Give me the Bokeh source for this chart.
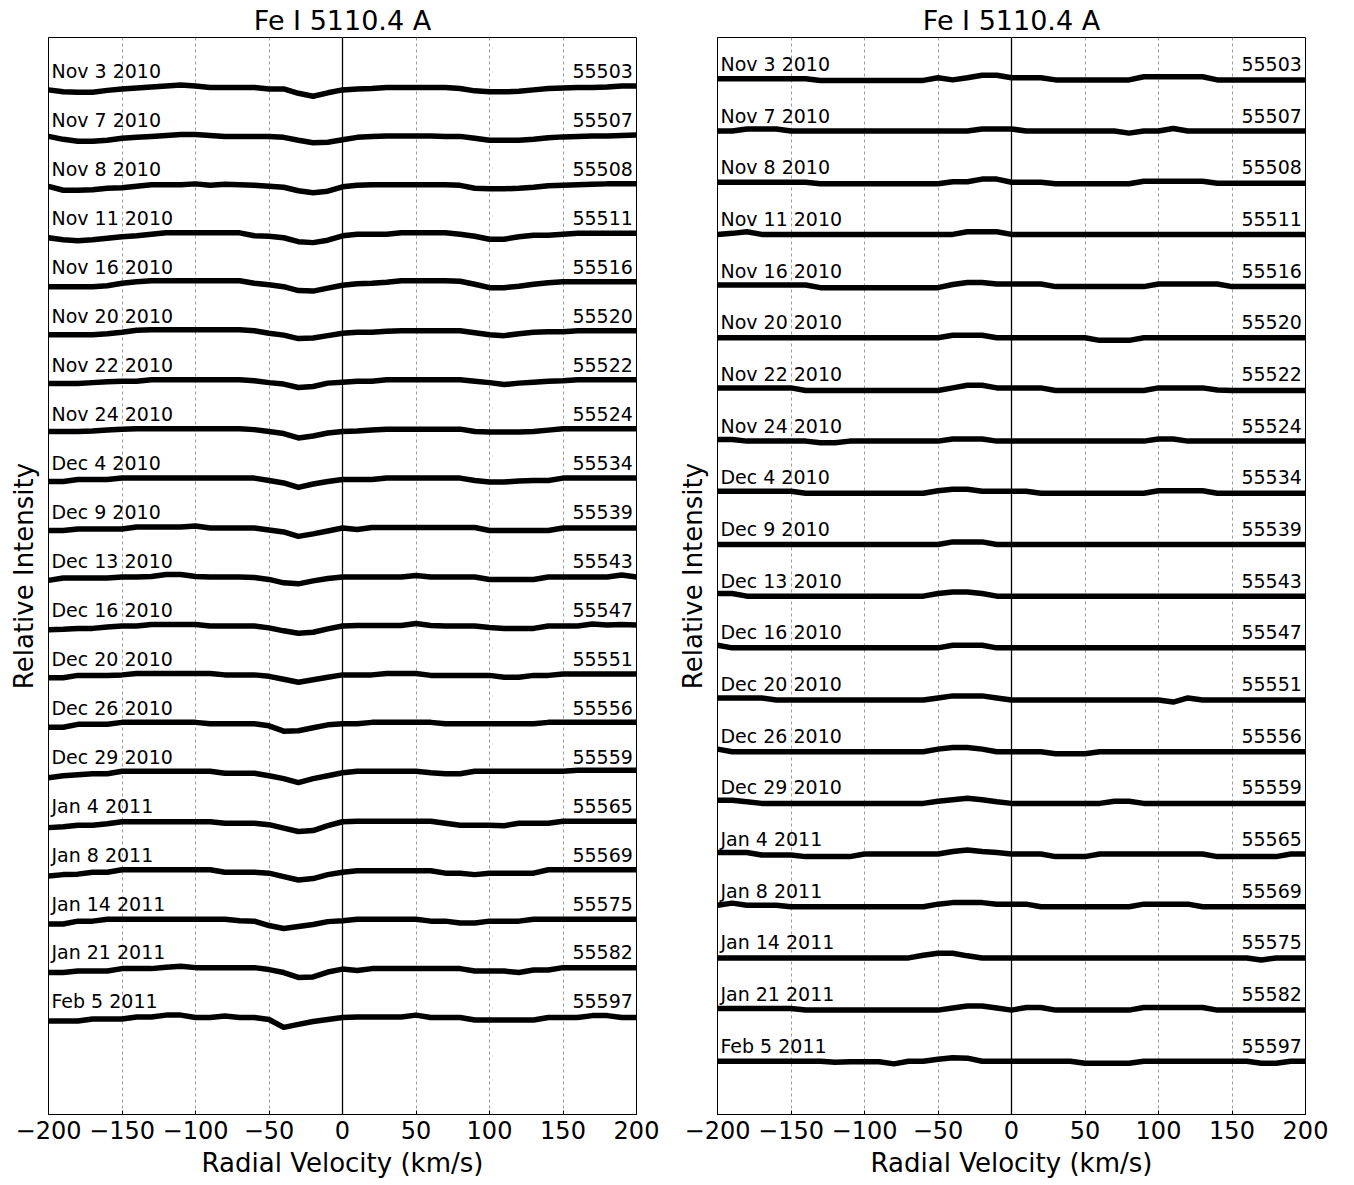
from bokeh.plotting import figure
from bokeh.models import Range1d, FixedTicker, Span
from bokeh.layouts import row
from bokeh.embed import file_html
from bokeh.resources import INLINE
from bokeh.core.properties import value

velocity = [-200, -190, -180, -170, -160, -150, -140, -130, -120, -110, -100,
            -90, -80, -70, -60, -50, -40, -30, -20, -10, 0,
            10, 20, 30, 40, 50, 60, 70, 80, 90, 100,
            110, 120, 130, 140, 150, 160, 170, 180, 190, 200]

dates = ["Nov 3 2010", "Nov 7 2010", "Nov 8 2010", "Nov 11 2010", "Nov 16 2010",
         "Nov 20 2010", "Nov 22 2010", "Nov 24 2010", "Dec 4 2010", "Dec 9 2010",
         "Dec 13 2010", "Dec 16 2010", "Dec 20 2010", "Dec 26 2010", "Dec 29 2010",
         "Jan 4 2011", "Jan 8 2011", "Jan 14 2011", "Jan 21 2011", "Feb 5 2011"]

mjd = ["55503", "55507", "55508", "55511", "55516", "55520", "55522", "55524",
       "55534", "55539", "55543", "55547", "55551", "55556", "55559", "55565",
       "55569", "55575", "55582", "55597"]

tick_values = [-200, -150, -100, -50, 0, 50, 100, 150, 200]

# Left panel: observed line profiles (relative intensity)
left_flux = [
    [0.995, 0.991, 0.990, 0.990, 0.994, 0.997, 0.999, 1.001, 1.003, 1.005, 1.003, 1.000, 1.000, 1.000, 1.000, 0.997, 0.997, 0.988, 0.982, 0.989, 0.995, 0.997, 0.998, 1.000, 1.000, 1.000, 1.000, 1.000, 0.998, 0.993, 0.991, 0.991, 0.992, 0.995, 0.998, 0.999, 1.000, 1.000, 1.001, 1.003, 1.003],
    [1.000, 0.994, 0.990, 0.990, 0.992, 0.996, 0.998, 1.000, 1.002, 1.004, 1.004, 1.002, 1.000, 1.000, 1.000, 1.000, 0.998, 0.992, 0.987, 0.988, 0.993, 0.998, 1.000, 1.001, 1.001, 1.001, 1.001, 1.000, 1.000, 0.996, 0.992, 0.992, 0.992, 0.994, 0.997, 0.999, 1.000, 1.001, 1.001, 1.002, 1.003],
    [0.998, 0.990, 0.990, 0.991, 0.994, 0.995, 0.998, 1.001, 1.001, 1.001, 1.003, 1.000, 1.002, 1.001, 1.000, 0.998, 0.996, 0.989, 0.985, 0.988, 0.997, 1.000, 1.001, 1.001, 1.001, 1.001, 1.001, 1.001, 1.000, 0.994, 0.993, 0.993, 0.994, 0.996, 0.999, 1.000, 1.001, 1.002, 1.003, 1.003, 1.003],
    [0.993, 0.989, 0.987, 0.989, 0.992, 0.995, 0.997, 1.000, 1.003, 1.003, 1.003, 1.003, 1.003, 1.003, 0.997, 0.996, 0.993, 0.985, 0.983, 0.988, 0.997, 1.000, 1.000, 1.000, 1.003, 1.003, 1.003, 1.003, 1.000, 0.996, 0.990, 0.990, 0.995, 0.998, 0.998, 1.000, 1.002, 1.002, 1.002, 1.002, 1.002],
    [0.993, 0.993, 0.993, 0.993, 0.995, 1.000, 1.003, 1.005, 1.005, 1.005, 1.005, 1.005, 1.005, 1.005, 1.000, 0.997, 0.993, 0.985, 0.984, 0.990, 0.996, 0.999, 1.000, 1.002, 1.005, 1.005, 1.005, 1.005, 1.004, 0.998, 0.991, 0.991, 0.994, 0.998, 1.001, 1.003, 1.003, 1.003, 1.003, 1.003, 1.003],
    [0.995, 0.995, 0.995, 0.995, 0.997, 1.000, 1.004, 1.005, 1.005, 1.005, 1.005, 1.005, 1.005, 1.005, 1.003, 0.998, 0.994, 0.987, 0.988, 0.993, 0.998, 1.000, 1.000, 1.002, 1.003, 1.003, 1.003, 1.003, 1.003, 0.999, 0.995, 0.993, 0.997, 1.000, 1.001, 1.001, 1.003, 1.003, 1.003, 1.003, 1.003],
    [0.995, 0.995, 0.995, 0.997, 0.999, 1.000, 1.000, 1.003, 1.003, 1.003, 1.003, 1.003, 1.003, 1.003, 1.001, 0.997, 0.994, 0.987, 0.989, 0.996, 0.998, 1.000, 1.000, 1.003, 1.003, 1.003, 1.003, 1.003, 1.003, 1.000, 0.997, 0.993, 0.996, 0.998, 1.000, 1.001, 1.003, 1.003, 1.003, 1.003, 1.003],
    [0.997, 0.997, 0.997, 0.998, 1.000, 1.002, 1.003, 1.003, 1.003, 1.003, 1.003, 1.003, 1.003, 1.003, 1.001, 0.997, 0.993, 0.984, 0.988, 0.994, 0.997, 0.998, 1.000, 1.002, 1.002, 1.002, 1.002, 1.002, 1.002, 0.997, 0.996, 0.996, 0.996, 0.997, 1.000, 1.003, 1.003, 1.003, 1.003, 1.003, 1.003],
    [0.995, 0.995, 0.999, 0.999, 0.999, 1.002, 1.002, 1.002, 1.002, 1.002, 1.002, 1.002, 1.002, 1.002, 1.002, 0.997, 0.992, 0.983, 0.990, 0.995, 0.999, 0.999, 0.999, 1.002, 1.002, 1.002, 1.002, 1.002, 1.002, 0.997, 0.994, 0.994, 0.996, 0.997, 0.997, 1.002, 1.002, 1.002, 1.002, 1.002, 1.002],
    [0.995, 0.995, 0.998, 0.998, 0.998, 0.998, 1.002, 1.002, 1.002, 1.002, 1.004, 1.000, 1.000, 1.000, 1.000, 0.996, 0.992, 0.983, 0.988, 0.994, 1.000, 0.997, 1.001, 1.001, 1.001, 1.001, 1.001, 1.001, 1.001, 1.001, 0.995, 0.995, 0.995, 0.995, 0.995, 1.000, 1.000, 1.000, 1.000, 1.000, 1.000],
    [0.993, 0.998, 0.998, 0.998, 0.998, 1.000, 1.000, 1.001, 1.005, 1.005, 1.001, 1.000, 1.000, 1.000, 0.999, 0.995, 0.988, 0.986, 0.992, 0.997, 1.000, 1.000, 1.000, 1.000, 1.000, 1.003, 1.000, 1.000, 1.000, 1.000, 0.995, 0.995, 0.995, 0.995, 1.000, 1.000, 1.000, 1.000, 1.000, 1.004, 1.000],
    [0.992, 0.993, 0.995, 0.995, 0.998, 1.000, 1.000, 1.003, 1.003, 1.003, 1.003, 1.000, 1.000, 1.000, 1.000, 0.996, 0.990, 0.985, 0.987, 0.994, 1.000, 1.001, 1.001, 1.001, 1.001, 1.005, 1.001, 1.000, 1.000, 1.000, 0.997, 0.995, 0.995, 0.995, 1.000, 1.000, 1.000, 1.004, 1.002, 1.003, 1.002],
    [0.994, 0.994, 0.999, 0.999, 0.999, 1.000, 1.003, 1.003, 1.003, 1.003, 1.003, 1.003, 1.000, 1.000, 1.000, 0.997, 0.991, 0.985, 0.990, 0.995, 1.000, 1.000, 1.000, 1.003, 1.003, 1.003, 0.999, 0.999, 0.999, 0.999, 0.999, 0.995, 0.995, 0.999, 0.999, 1.002, 1.002, 1.002, 1.002, 1.002, 1.002],
    [0.993, 0.993, 0.999, 0.999, 0.999, 1.003, 1.003, 1.003, 1.003, 1.003, 1.003, 1.000, 1.000, 1.000, 1.000, 0.996, 0.985, 0.986, 0.992, 0.998, 1.000, 1.000, 1.003, 1.003, 1.003, 1.003, 1.003, 1.000, 1.000, 1.000, 1.000, 1.000, 1.000, 1.000, 1.003, 1.003, 1.003, 1.003, 1.003, 1.003, 1.003],
    [0.990, 0.994, 0.996, 0.998, 0.998, 1.003, 1.003, 1.003, 1.003, 1.003, 1.003, 1.003, 0.999, 0.999, 0.999, 0.994, 0.988, 0.980, 0.988, 0.994, 1.000, 1.003, 1.003, 1.003, 1.003, 1.003, 1.000, 0.998, 0.998, 1.003, 1.003, 1.003, 1.003, 1.003, 1.003, 1.003, 1.005, 1.005, 1.005, 1.005, 1.005],
    [0.988, 0.990, 0.993, 0.993, 0.996, 1.000, 1.000, 1.000, 1.000, 1.000, 1.000, 1.000, 0.997, 0.997, 0.997, 0.994, 0.987, 0.980, 0.982, 0.992, 1.000, 1.001, 1.001, 1.001, 1.001, 1.001, 1.001, 0.997, 0.993, 0.993, 0.993, 0.992, 0.997, 0.997, 0.997, 1.001, 1.001, 1.001, 1.001, 1.001, 1.001],
    [0.989, 0.992, 0.993, 0.997, 0.997, 1.002, 1.002, 1.002, 1.002, 1.002, 1.002, 1.002, 0.997, 0.997, 0.997, 0.995, 0.988, 0.981, 0.984, 0.992, 0.997, 1.000, 1.000, 1.000, 1.000, 1.000, 1.000, 0.995, 0.995, 0.992, 0.995, 0.995, 0.995, 0.995, 1.002, 1.002, 1.002, 1.002, 1.002, 1.002, 1.002],
    [0.991, 0.991, 0.997, 0.997, 1.001, 1.001, 1.001, 1.001, 1.001, 1.001, 1.001, 1.001, 1.001, 0.998, 0.997, 0.988, 0.982, 0.986, 0.990, 0.996, 0.998, 1.001, 1.001, 1.001, 1.001, 1.001, 0.997, 0.997, 0.993, 0.993, 0.997, 0.997, 0.997, 1.001, 1.001, 1.001, 1.001, 1.001, 1.001, 1.001, 1.001],
    [0.992, 0.992, 0.995, 0.995, 0.995, 1.000, 1.000, 1.000, 1.003, 1.005, 1.002, 1.002, 1.002, 1.002, 1.002, 0.998, 0.992, 0.982, 0.983, 0.993, 0.999, 0.996, 1.000, 1.000, 1.000, 1.000, 1.000, 1.000, 1.000, 0.995, 0.995, 0.995, 0.992, 0.997, 0.997, 1.002, 1.002, 1.002, 1.002, 1.002, 1.002],
    [0.993, 0.993, 0.993, 0.997, 0.997, 0.997, 1.001, 1.001, 1.005, 1.005, 1.000, 1.000, 1.003, 1.000, 1.000, 0.996, 0.980, 0.986, 0.992, 0.996, 1.000, 1.001, 1.001, 1.001, 1.001, 1.005, 1.000, 1.000, 1.000, 0.995, 0.995, 0.995, 0.995, 0.995, 1.000, 1.000, 1.000, 1.004, 1.004, 1.000, 1.000],
]

# Right panel: residual profiles (relative intensity)
right_flux = [
    [1.001, 1.001, 1.001, 1.001, 1.001, 1.001, 1.001, 0.998, 0.998, 0.998, 0.998, 0.998, 0.998, 0.998, 0.998, 1.003, 0.999, 1.003, 1.008, 1.008, 1.003, 1.003, 1.003, 0.999, 0.999, 0.999, 0.999, 0.999, 0.999, 1.005, 1.005, 1.005, 1.005, 1.005, 0.999, 0.999, 0.999, 0.999, 0.999, 0.999, 0.999],
    [1.000, 1.000, 1.004, 1.004, 1.004, 1.000, 1.000, 1.000, 1.000, 1.000, 1.000, 1.000, 1.000, 1.000, 1.000, 1.000, 1.000, 1.000, 1.004, 1.004, 1.004, 1.000, 1.000, 1.000, 1.000, 1.000, 1.000, 1.000, 0.996, 1.000, 1.000, 1.005, 1.000, 1.000, 1.000, 1.000, 1.000, 1.000, 1.000, 1.000, 1.000],
    [1.001, 1.001, 1.001, 1.001, 1.001, 1.001, 1.001, 0.998, 0.998, 0.998, 0.998, 0.998, 0.998, 0.998, 0.998, 0.998, 1.002, 1.002, 1.007, 1.007, 1.001, 1.001, 1.001, 0.998, 0.998, 0.998, 0.998, 0.998, 0.998, 1.003, 1.003, 1.003, 1.003, 1.003, 0.999, 0.999, 0.999, 0.999, 0.999, 0.999, 0.999],
    [1.000, 1.002, 1.005, 1.000, 1.000, 1.000, 1.000, 1.000, 1.000, 1.000, 1.000, 1.000, 1.000, 1.000, 1.000, 1.000, 1.000, 1.005, 1.005, 1.005, 1.000, 1.000, 1.000, 1.000, 1.000, 1.000, 1.000, 1.000, 1.000, 1.000, 1.000, 1.000, 1.000, 1.000, 1.000, 1.000, 1.000, 1.000, 1.000, 1.000, 1.000],
    [1.002, 1.002, 1.002, 1.002, 1.002, 1.002, 1.002, 0.997, 0.997, 0.997, 0.997, 0.997, 0.997, 0.997, 0.997, 0.997, 1.003, 1.007, 1.007, 1.004, 1.004, 1.004, 1.004, 0.999, 0.999, 0.999, 0.999, 0.999, 0.999, 0.999, 1.004, 1.004, 1.004, 1.004, 1.004, 0.999, 0.999, 0.999, 0.999, 0.999, 0.999],
    [1.000, 1.000, 1.000, 1.000, 1.000, 1.000, 1.000, 1.000, 1.000, 1.000, 1.000, 1.000, 1.000, 1.000, 1.000, 1.000, 1.005, 1.005, 1.005, 1.000, 1.000, 1.000, 1.000, 1.000, 1.000, 1.000, 0.995, 0.995, 0.995, 1.000, 1.000, 1.000, 1.000, 1.000, 1.000, 1.000, 1.000, 1.000, 1.000, 1.000, 1.000],
    [1.003, 1.003, 1.003, 1.003, 1.003, 1.003, 0.998, 0.998, 0.998, 0.998, 0.998, 0.998, 0.998, 0.998, 0.998, 0.998, 1.003, 1.008, 1.008, 1.003, 1.003, 1.003, 1.003, 0.998, 0.998, 0.998, 0.998, 0.998, 0.998, 0.998, 1.003, 1.003, 1.003, 1.003, 0.999, 0.998, 0.998, 0.998, 0.998, 0.998, 0.998],
    [1.003, 1.003, 1.000, 1.000, 1.000, 1.000, 1.000, 0.997, 0.997, 1.000, 1.000, 1.000, 1.000, 1.000, 1.000, 1.000, 1.004, 1.004, 1.004, 1.000, 1.000, 1.000, 1.000, 1.000, 1.000, 1.000, 1.000, 1.000, 1.000, 1.000, 1.004, 1.004, 1.000, 1.000, 1.000, 1.000, 1.000, 1.000, 1.000, 1.000, 1.000],
    [1.003, 1.003, 1.003, 1.003, 1.003, 1.003, 0.999, 0.999, 0.999, 0.999, 0.999, 0.999, 0.999, 0.999, 0.999, 1.004, 1.007, 1.007, 1.003, 1.003, 1.003, 1.003, 0.999, 0.999, 0.999, 0.999, 0.999, 0.999, 0.999, 0.999, 1.004, 1.004, 1.004, 1.004, 0.999, 0.999, 0.999, 0.999, 0.999, 0.999, 0.999],
    [1.000, 1.000, 1.000, 1.000, 1.000, 1.000, 1.000, 1.000, 1.000, 1.000, 1.000, 1.000, 1.000, 1.000, 1.000, 1.000, 1.005, 1.005, 1.005, 1.000, 1.000, 1.000, 1.000, 1.000, 1.000, 1.000, 1.000, 1.000, 1.000, 1.000, 1.000, 1.000, 1.000, 1.000, 1.000, 1.000, 1.000, 1.000, 1.000, 1.000, 1.000],
    [1.005, 1.005, 1.000, 1.000, 1.000, 1.000, 1.000, 1.000, 1.000, 1.000, 1.000, 1.000, 1.000, 1.000, 1.000, 1.005, 1.008, 1.008, 1.005, 1.000, 1.000, 1.000, 1.000, 1.000, 1.000, 1.000, 1.000, 1.000, 1.000, 1.000, 1.000, 1.000, 1.000, 1.000, 1.000, 1.000, 1.000, 1.000, 1.000, 1.000, 1.000],
    [1.005, 1.000, 1.000, 1.000, 1.000, 1.000, 1.000, 1.000, 1.000, 1.000, 1.000, 1.000, 1.000, 1.000, 1.000, 1.000, 1.005, 1.005, 1.005, 1.000, 1.000, 1.000, 1.000, 1.000, 1.000, 1.000, 1.000, 1.000, 1.000, 1.000, 1.000, 1.000, 1.000, 1.000, 1.000, 1.000, 1.000, 1.000, 1.000, 1.000, 1.000],
    [1.003, 1.003, 1.003, 1.003, 0.999, 0.999, 0.999, 0.999, 0.999, 0.999, 0.999, 0.999, 0.999, 0.999, 0.999, 1.003, 1.007, 1.007, 1.007, 1.003, 0.999, 0.999, 0.999, 0.999, 0.999, 0.999, 0.999, 0.999, 0.999, 0.999, 0.999, 0.995, 1.003, 0.999, 0.999, 0.999, 0.999, 0.999, 0.999, 0.999, 0.999],
    [1.004, 0.999, 0.999, 0.999, 0.999, 0.999, 0.999, 0.999, 0.999, 0.999, 0.999, 0.999, 0.999, 0.999, 0.999, 1.004, 1.007, 1.007, 1.004, 0.999, 0.999, 0.999, 0.999, 0.995, 0.995, 0.995, 0.999, 0.999, 0.999, 0.999, 0.999, 0.999, 0.999, 0.999, 0.999, 0.999, 0.999, 0.999, 0.999, 0.999, 0.999],
    [1.005, 1.005, 1.002, 0.999, 0.999, 0.999, 0.999, 0.999, 0.999, 0.999, 0.999, 0.999, 0.999, 0.999, 0.999, 1.003, 1.006, 1.009, 1.006, 1.002, 0.999, 0.999, 0.999, 0.999, 0.999, 0.999, 0.999, 1.003, 1.003, 0.999, 0.999, 0.999, 0.999, 0.999, 0.999, 0.999, 0.999, 0.999, 0.999, 0.999, 0.999],
    [1.004, 1.004, 1.004, 0.999, 0.999, 0.999, 0.996, 0.996, 0.996, 0.996, 1.001, 1.001, 1.001, 1.001, 1.001, 1.001, 1.006, 1.009, 1.006, 1.004, 1.001, 1.001, 1.001, 0.996, 0.996, 0.996, 1.001, 1.001, 1.001, 1.001, 1.001, 1.001, 1.001, 1.001, 0.996, 0.996, 0.996, 0.996, 0.996, 1.001, 1.001],
    [1.002, 1.006, 1.002, 1.002, 1.002, 0.999, 0.999, 0.999, 0.999, 0.999, 0.999, 0.999, 0.999, 0.999, 0.999, 1.004, 1.007, 1.007, 1.007, 1.004, 1.004, 1.004, 0.999, 0.999, 0.999, 0.999, 0.999, 0.999, 0.999, 1.004, 1.004, 1.004, 1.004, 0.999, 0.999, 0.999, 0.999, 0.999, 0.999, 0.999, 0.999],
    [1.000, 1.000, 1.000, 1.000, 1.000, 1.000, 1.000, 1.000, 1.000, 1.000, 1.000, 1.000, 1.000, 1.000, 1.005, 1.009, 1.009, 1.004, 1.000, 1.000, 1.000, 1.000, 1.000, 1.000, 1.000, 1.000, 1.000, 1.000, 1.000, 1.000, 1.000, 1.000, 1.000, 1.000, 1.000, 1.000, 1.000, 0.996, 1.000, 1.000, 1.000],
    [1.002, 1.002, 1.002, 1.002, 1.002, 1.002, 0.999, 0.999, 0.999, 0.999, 0.999, 0.999, 0.999, 0.999, 0.999, 0.999, 1.003, 1.007, 1.007, 1.003, 0.999, 1.004, 1.004, 0.999, 0.999, 0.999, 0.999, 0.999, 0.999, 1.004, 1.004, 1.004, 1.004, 1.004, 0.999, 0.999, 0.999, 0.999, 0.999, 0.999, 0.999],
    [1.000, 1.000, 1.000, 1.000, 1.000, 1.000, 1.000, 1.000, 0.998, 0.999, 0.999, 0.999, 0.995, 1.000, 1.000, 1.004, 1.007, 1.006, 1.000, 1.000, 1.000, 1.000, 1.000, 1.000, 1.000, 0.996, 0.996, 0.996, 0.996, 1.000, 1.000, 1.000, 1.000, 1.000, 1.000, 1.000, 1.000, 0.996, 0.996, 1.000, 1.000],
]

for arr in left_flux + right_flux:
    assert len(arr) == len(velocity)

SPACING = 0.1
FONT = "DejaVu Sans"


def make_panel(flux, y_lo, y_hi, label_lift, border_left, border_right):
    p = figure(frame_width=588, frame_height=1077,
               x_range=Range1d(-200, 200), y_range=Range1d(y_lo, y_hi),
               output_backend="svg", toolbar_location=None,
               min_border_left=border_left, min_border_right=border_right,
               min_border_top=36, min_border_bottom=72,
               title="Fe I 5110.4 A")
    p.title.align = "center"
    p.title.text_font = FONT
    p.title.text_font_size = "27px"
    p.title.text_font_style = "normal"
    p.title.text_color = "black"
    p.title.standoff = 4

    p.outline_line_color = "black"
    p.outline_line_width = 1
    p.outline_line_alpha = 1
    p.background_fill_color = "white"
    p.border_fill_color = "white"

    ticker = FixedTicker(ticks=tick_values)
    p.xaxis.ticker = ticker
    p.xaxis.major_label_overrides = {t: str(t).replace("-", "\u2212") for t in tick_values}
    p.xaxis.major_label_text_font = FONT
    p.xaxis.major_label_text_font_size = "24px"
    p.xaxis.major_label_text_color = "black"
    p.xaxis.major_label_standoff = 6
    p.xaxis.axis_label = "Radial Velocity (km/s)"
    p.xaxis.axis_label_text_font = FONT
    p.xaxis.axis_label_text_font_size = "26px"
    p.xaxis.axis_label_text_font_style = "normal"
    p.xaxis.axis_label_text_color = "black"
    p.xaxis.axis_label_standoff = 6
    p.xaxis.major_tick_in = 4
    p.xaxis.major_tick_out = 0
    p.xaxis.major_tick_line_color = "black"
    p.xaxis.minor_tick_line_color = None
    p.xaxis.axis_line_color = "black"

    p.yaxis.ticker = FixedTicker(ticks=[])
    p.yaxis.major_tick_line_color = None
    p.yaxis.minor_tick_line_color = None
    p.yaxis.major_tick_out = 0
    p.yaxis.major_tick_in = 0
    p.yaxis.major_label_standoff = 0
    p.yaxis.axis_label = "Relative Intensity"
    p.yaxis.axis_label_text_font = FONT
    p.yaxis.axis_label_text_font_size = "26px"
    p.yaxis.axis_label_text_font_style = "normal"
    p.yaxis.axis_label_text_color = "black"
    p.yaxis.axis_label_standoff = 10
    p.yaxis.axis_line_color = "black"

    p.xgrid.ticker = ticker
    p.xgrid.grid_line_color = "#9a9a9a"
    p.xgrid.grid_line_dash = "3 3"
    p.xgrid.grid_line_width = 1
    p.ygrid.visible = False

    p.add_layout(Span(location=0, dimension="height", line_color="black", line_width=1.3))

    base = []
    for i, f in enumerate(flux):
        off = 1.0 - SPACING * i
        base.append(off)
        ys = [v - SPACING * i for v in f]
        p.line(velocity, ys, line_color="black", line_width=5.5, line_join="round", line_cap="round")

    lab_y = [b + label_lift for b in base]
    p.text(x=[-198] * len(dates), y=lab_y, text=dates, text_font=value(FONT),
           text_font_size="19px", text_baseline="alphabetic", text_align="left", text_color="black")
    p.text(x=[197.5] * len(mjd), y=lab_y, text=mjd, text_font=value(FONT),
           text_font_size="19px", text_baseline="alphabetic", text_align="right", text_color="black")
    return p


p1 = make_panel(left_flux, -1.098, 1.102, 0.033, 48, 33)
p2 = make_panel(right_flux, -1.003, 1.081, 0.030, 48, 49)

layout = row(p1, p2)
open("out.html", "w").write(file_html(layout, INLINE))
